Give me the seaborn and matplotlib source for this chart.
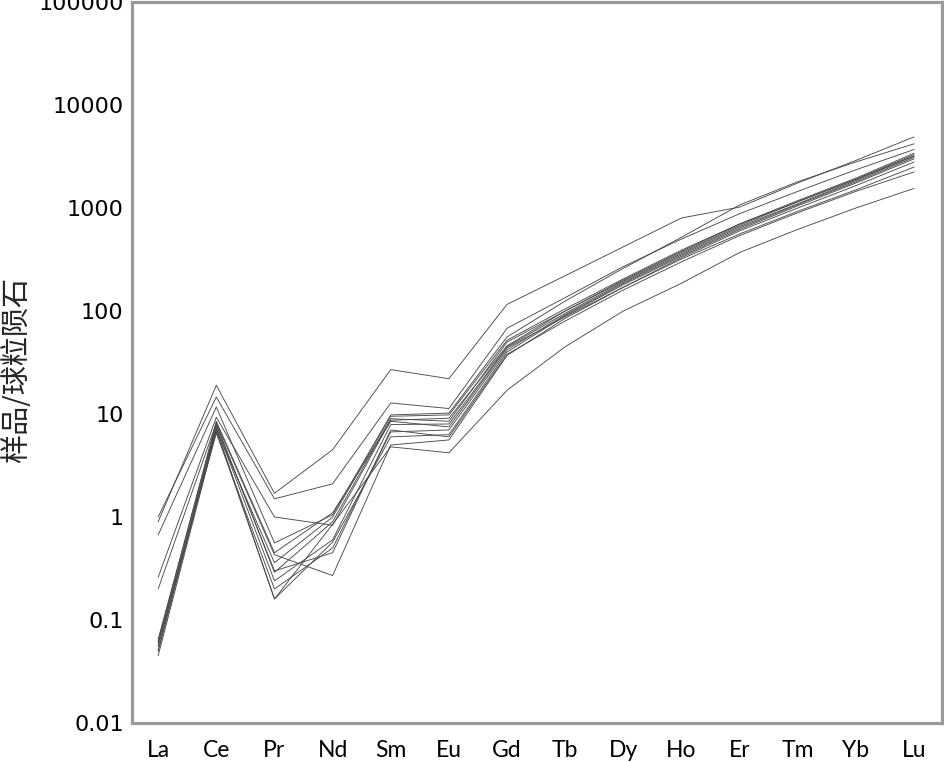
import numpy as np
import pandas as pd
import matplotlib
matplotlib.use("Agg")
import matplotlib.pyplot as plt
import seaborn as sns

elements = ["La", "Ce", "Pr", "Nd", "Sm", "Eu", "Gd", "Tb", "Dy", "Ho", "Er", "Tm", "Yb", "Lu"]

s01 = [1.00, 14.6, 1.50, 2.10, 12.8, 11.3, 68, 135, 270, 500, 880, 1450, 2350, 3700]
s02 = [0.90, 19.0, 1.70, 4.50, 27.0, 22.0, 116, 220, 420, 800, 1020, 1750, 2900, 4900]
s03 = [0.67, 11.7, 0.56, 1.05, 9.8, 10.2, 56, 125, 260, 520, 1070, 1800, 2800, 4200]
s04 = [0.26, 9.3, 1.00, 0.83, 8.7, 9.1, 46, 100, 200, 380, 700, 1150, 1900, 3200]
s05 = [0.20, 8.2, 0.43, 0.27, 5.0, 5.6, 37, 85, 170, 330, 600, 1000, 1650, 2800]
s06 = [0.055, 7.2, 0.16, 0.57, 6.0, 6.3, 40, 90, 180, 340, 620, 1050, 1750, 3000]
s07 = [0.060, 6.5, 0.20, 0.50, 6.7, 7.0, 42, 92, 185, 350, 640, 1080, 1800, 3100]
s08 = [0.050, 7.5, 0.24, 0.60, 7.9, 8.0, 45, 95, 190, 360, 660, 1100, 1850, 3200]
s09 = [0.065, 8.0, 0.29, 0.90, 9.0, 8.5, 50, 100, 195, 370, 680, 1150, 1900, 3300]
s10 = [0.050, 7.0, 0.36, 1.00, 9.5, 9.8, 52, 105, 205, 390, 700, 1180, 1950, 3400]
s11 = [0.045, 6.8, 0.16, 0.85, 4.8, 4.2, 17, 45, 100, 186, 370, 620, 1000, 1550]
s12 = [0.058, 7.8, 0.30, 0.45, 7.0, 6.0, 38, 80, 160, 300, 540, 900, 1450, 2240]
s13 = [0.062, 8.5, 0.45, 1.10, 8.5, 7.5, 44, 88, 170, 320, 560, 930, 1500, 2500]

samples = [s01, s02, s03, s04, s05, s06, s07, s08, s09, s10, s11, s12, s13]

rows = []
for i, vals in enumerate(samples):
    for el, v in zip(elements, vals):
        rows.append({"sample": f"S{i+1}", "element": el, "value": v})
df = pd.DataFrame(rows)

sns.set_theme(style="white")
plt.rcParams["font.family"] = ["DejaVu Sans"]

fig = plt.figure(figsize=(9.45, 7.62), dpi=100)
ax = fig.add_axes([132/945, 1 - 723/762, 810/945, 721/762])

sns.lineplot(data=df, x="element", y="value", units="sample", estimator=None,
             color="#4a4a4a", linewidth=0.65, sort=False, ax=ax, legend=False)

ax.set_yscale("log")
ax.set_ylim(0.01, 100000)
ax.set_xlim(-0.45, 13.48)
ax.set_xticks(range(len(elements)))
ax.set_xticklabels(elements, fontfamily="Lato", fontsize=16.5)
yt = [0.01, 0.1, 1, 10, 100, 1000, 10000, 100000]
ax.set_yticks(yt)
ax.set_yticklabels(["0.01", "0.1", "1", "10", "100", "1000", "10000", "100000"], fontsize=16)
ax.yaxis.set_minor_locator(matplotlib.ticker.NullLocator())

for sp in ax.spines.values():
    sp.set_visible(True)
    sp.set_color("#9a9a9a")
    sp.set_linewidth(2.3)

ax.tick_params(axis="both", which="major", direction="in", length=7, width=1.8,
               color="#9a9a9a", labelcolor="black")
ax.tick_params(axis="x", pad=12)
ax.tick_params(axis="y", pad=6)

ax.set_xlabel("")
ax.set_ylabel("样品/球粒陨石", fontsize=21, family=["Noto Sans CJK SC", "DejaVu Sans"])
ax.yaxis.set_label_coords(-0.123, 0.49)
ax.grid(False)

fig.savefig("out.png", dpi=100, facecolor="white")
